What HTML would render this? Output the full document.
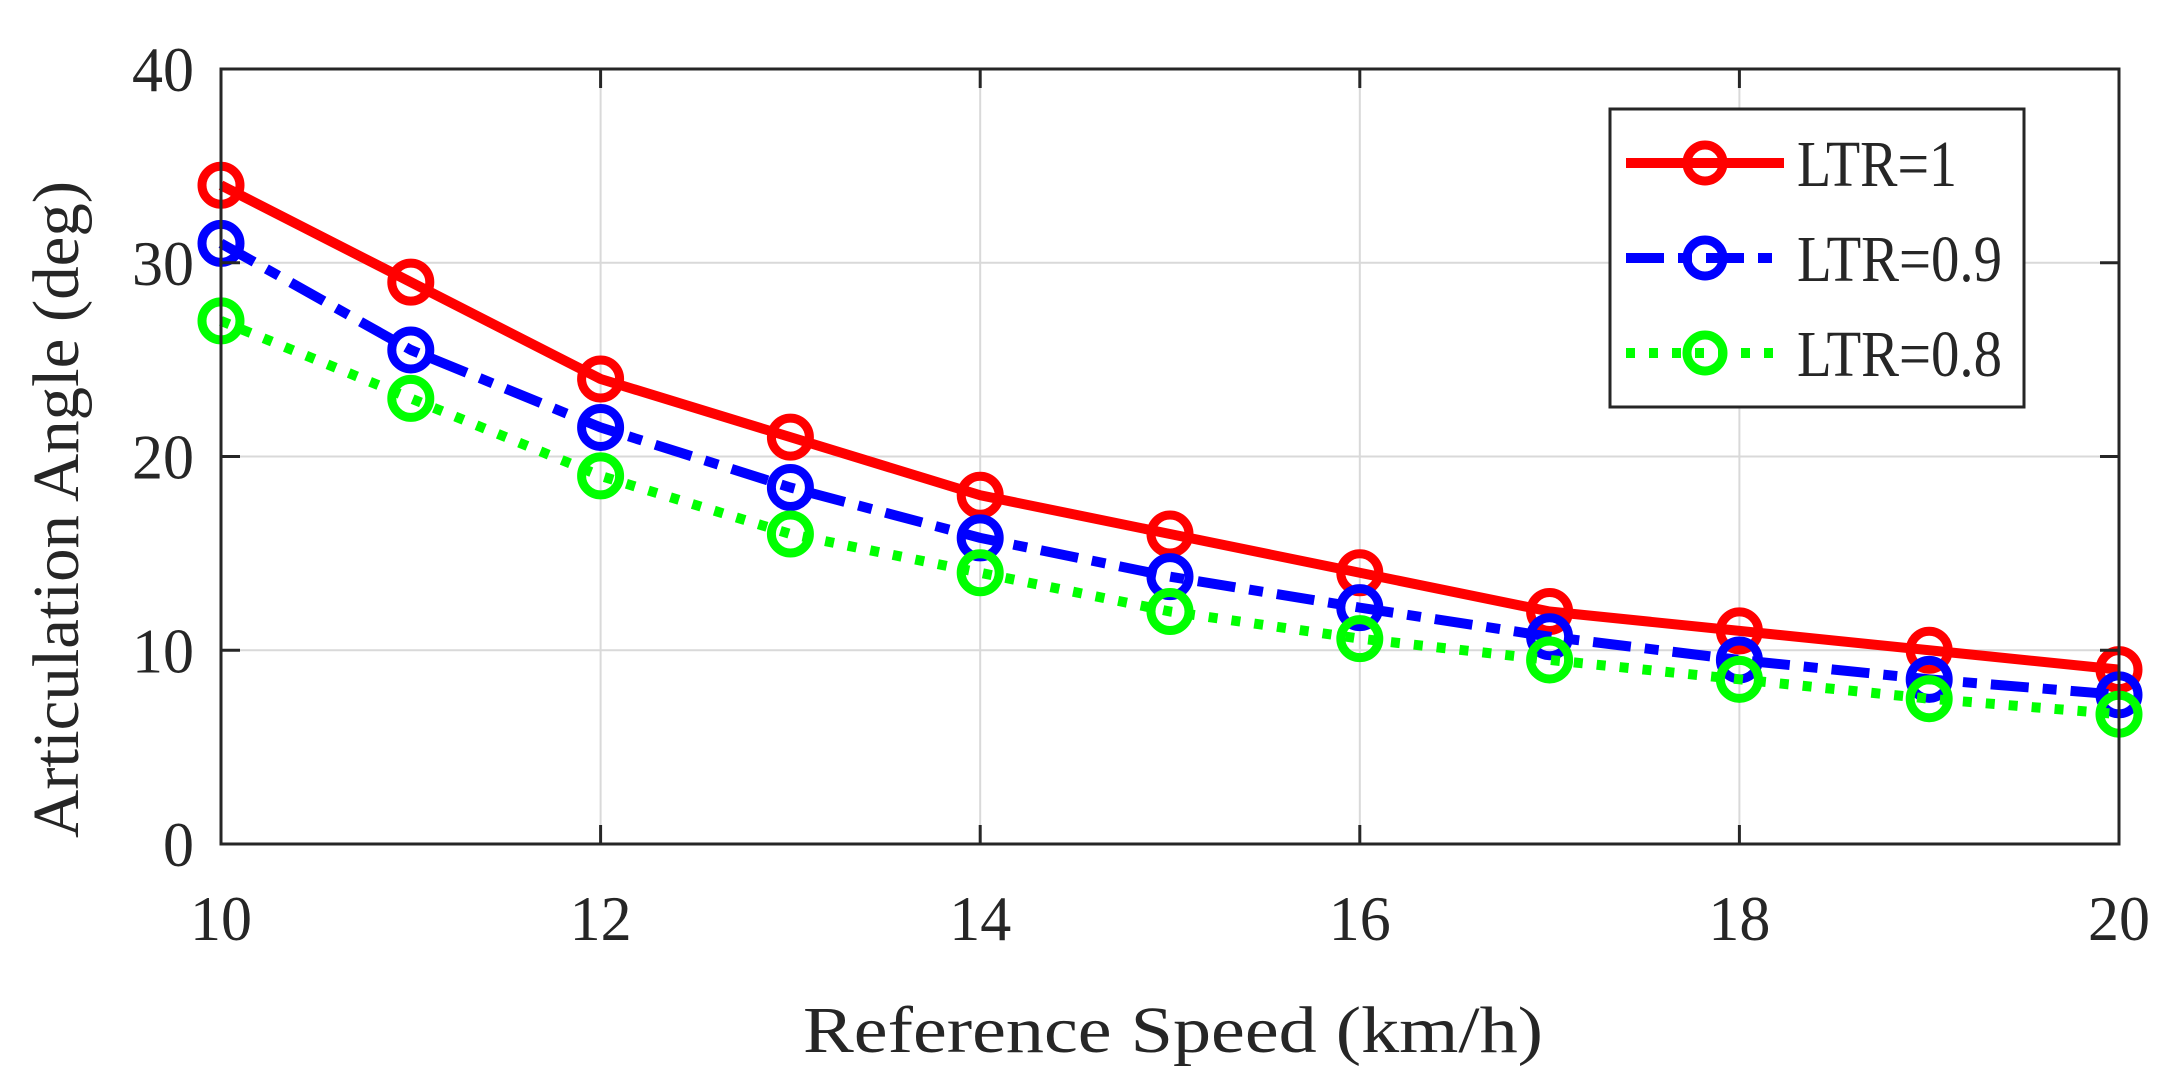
<!DOCTYPE html>
<html><head><meta charset="utf-8"><style>
html,body{margin:0;padding:0;background:#fff;}
text{font-family:"Liberation Serif","Times New Roman","DejaVu Serif",serif !important;fill:#262626;}
</style></head><body>
<svg id="chart" width="2181" height="1072" viewBox="0 0 2181 1072" xmlns="http://www.w3.org/2000/svg" font-family="Liberation Serif, serif">
<g id="grid"></g>
<g id="series"></g>
<rect x="221" y="69" width="1898" height="775" fill="none" stroke="#262626" stroke-width="3"/>
<g id="ticks"></g>
<text x="803" y="1052" font-size="66" textLength="740" lengthAdjust="spacingAndGlyphs">Reference Speed (km/h)</text>
<text transform="translate(78,838) rotate(-90)" font-size="66" textLength="657" lengthAdjust="spacingAndGlyphs">Articulation Angle (deg)</text>
<g>
<rect x="1610" y="109" width="414" height="298" fill="#fff" stroke="#262626" stroke-width="3"/>
<g id="legend-entries"></g>
</g>
</svg>
<script>
const speeds=[10,11,12,13,14,15,16,17,18,19,20];
const ltr1=[34,29,24,21,18,16,14,12,11,10,9];
const ltr09=[31,25.5,21.5,18.4,15.8,13.8,12.2,10.7,9.5,8.5,7.7];
const ltr08=[27,23,19,16,14,12,10.6,9.5,8.5,7.5,6.7];
const xTicks=[10,12,14,16,18,20];
const yTicks=[0,10,20,30,40];
const seriesNames=["LTR=1","LTR=0.9","LTR=0.8"];
const NS="http://www.w3.org/2000/svg";
const L=221,R=2119,T=69,B=844;
const xs=v=>L+(v-10)/10*(R-L);
const ys=v=>B-v/40*(B-T);
function mk(tag,attrs,parent){const e=document.createElementNS(NS,tag);for(const k in attrs)e.setAttribute(k,attrs[k]);parent.appendChild(e);return e;}
const grid=document.getElementById('grid'),ticks=document.getElementById('ticks'),ser=document.getElementById('series');
xTicks.forEach(t=>{
 const g=mk('line',{x1:xs(t),x2:xs(t),y1:T,y2:B,stroke:'#d9d9d9','stroke-width':2},grid);
 
 
 const tk=mk('line',{x1:xs(t),x2:xs(t),y1:B,y2:B-19,stroke:'#262626','stroke-width':3},ticks);
 
 
 const tk2=mk('line',{x1:xs(t),x2:xs(t),y1:T,y2:T+19,stroke:'#262626','stroke-width':3},ticks);
 
 
 const w=String(t).length*31;
 const tx=mk('text',{x:xs(t)-w/2,y:940,'font-size':64,textLength:w,lengthAdjust:'spacingAndGlyphs'},ticks);
 tx.textContent=t;
 
 
});
yTicks.forEach(t=>{
 const g=mk('line',{x1:L,x2:R,y1:ys(t),y2:ys(t),stroke:'#d9d9d9','stroke-width':2},grid);
 
 
 const tk=mk('line',{x1:L,x2:L+19,y1:ys(t),y2:ys(t),stroke:'#262626','stroke-width':3},ticks);
 
 
 const tk2=mk('line',{x1:R,x2:R-19,y1:ys(t),y2:ys(t),stroke:'#262626','stroke-width':3},ticks);
 
 
 const w=String(t).length*31;
 const tx=mk('text',{x:194-w,y:ys(t)+22,'font-size':64,textLength:w,lengthAdjust:'spacingAndGlyphs'},ticks);
 tx.textContent=t;
 
 
});
const styles=[{c:'#ff0000',d:''},{c:'#0000ff',d:'38 14 14 14'},{c:'#00ff00',d:'9 14'}];
const legW=[160,205,205];
[ltr1,ltr09,ltr08].forEach((vals,i)=>{
 const s=styles[i];
 const pts=vals.map((v,j)=>xs(speeds[j])+','+ys(v)).join(' ');
 const pl=mk('polyline',{points:pts,fill:'none',stroke:s.c,'stroke-width':10,'stroke-dasharray':s.d,'stroke-linejoin':'round'},ser);
 
 
 vals.forEach((v,j)=>{
  const c=mk('circle',{cx:xs(speeds[j]),cy:ys(v),r:19,fill:'none',stroke:s.c,'stroke-width':9},ser);
  
  
 });
 const le=document.getElementById('legend-entries');
 const y=163+i*95;
 const ll=mk('line',{x1:1626,x2:1784,y1:y,y2:y,stroke:s.c,'stroke-width':10,'stroke-dasharray':s.d},le);
 
 
 const lc=mk('circle',{cx:1705,cy:y,r:18,fill:'none',stroke:s.c,'stroke-width':9},le);
 
 
 const lt=mk('text',{x:1797,y:y+23,'font-size':66,fill:'#000',textLength:legW[i],lengthAdjust:'spacingAndGlyphs'},le);
 lt.textContent=seriesNames[i];
 
 
});
</script>
</body></html>
